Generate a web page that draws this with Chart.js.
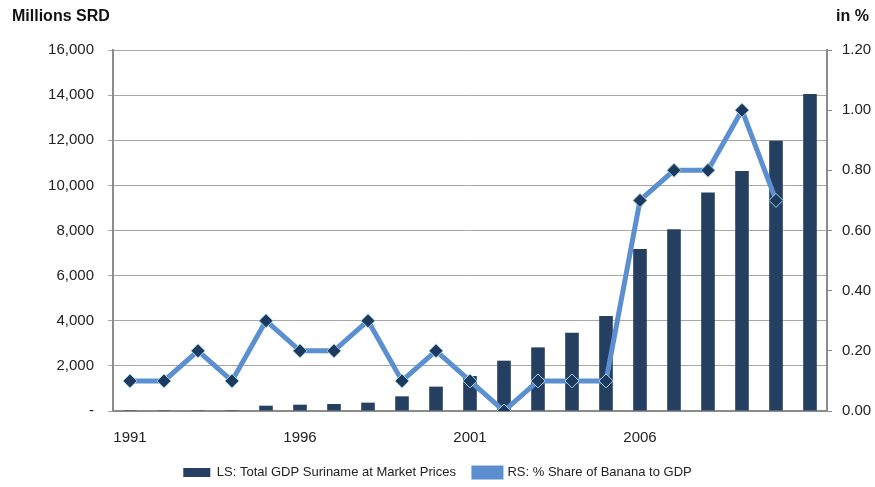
<!DOCTYPE html>
<html>
<head>
<meta charset="utf-8">
<script src="https://cdn.jsdelivr.net/npm/chart.js@4/dist/chart.umd.min.js"></script>
<style>
    html, body { margin: 0; padding: 0; background: #fff; }
    #wrap { position: relative; width: 875px; height: 487px; font-family: "Liberation Sans", Arial, sans-serif; }
    .axis-title { position: absolute; top: 7px; font-weight: bold; font-size: 16px; color: #111; }
</style>
</head>
<body>
<div id="wrap">
    <div class="axis-title" style="left: 12px;">Millions SRD</div>
    <div class="axis-title" style="left: 836px;">in %</div>
    <canvas id="gdpChart" width="875" height="487"></canvas>
</div>
<script>
// 年次
const years = ['1991', '1992', '1993', '1994', '1995', '1996', '1997', '1998', '1999', '2000',
    '2001', '2002', '2003', '2004', '2005', '2006', '2007', '2008', '2009', '2010', '2011'];

// LS: GDP (Millions SRD)
const gdpValues = [3, 4, 8, 40, 235, 280, 310, 370, 650, 1080,
    1550, 2230, 2820, 3470, 4210, 7180, 8050, 9680, 10640, 11980, 14050];

// RS: Banana share of GDP (%)
const bananaShare = [0.1, 0.1, 0.2, 0.1, 0.3, 0.2, 0.2, 0.3, 0.1, 0.2,
    0.1, 0.0, 0.1, 0.1, 0.1, 0.7, 0.8, 0.8, 1.0, 0.7, null];

const shownYears = ['1991', '1996', '2001', '2006'];

const barColor = '#243f60';
const lineColor = '#5b8fcf';
const gridColor = '#a6a6a6';
const axisColor = '#8c8c8c';
const textColor = '#222';
const fontFamily = '"Liberation Sans", Arial, sans-serif';

const ctx = document.getElementById('gdpChart').getContext('2d');

new Chart(ctx, {
    type: 'bar',
    data: {
        labels: years,
        datasets: [
            {
                type: 'bar',
                label: 'LS: Total GDP Suriname at Market Prices',
                data: gdpValues,
                backgroundColor: barColor,
                borderWidth: 0,
                yAxisID: 'y',
                order: 1,
                categoryPercentage: 1,
                barPercentage: 0.4
            },
            {
                type: 'line',
                label: 'RS: % Share of Banana to GDP',
                data: bananaShare,
                borderColor: lineColor,
                backgroundColor: lineColor,
                borderWidth: 5,
                pointStyle: 'rectRot',
                pointRadius: 7,
                pointBackgroundColor: '#1d3a5e',
                pointBorderColor: '#9fd4e2',
                pointBorderWidth: 1,
                tension: 0,
                yAxisID: 'y1',
                order: 0
            }
        ]
    },
    options: {
        responsive: false,
        animation: false,
        layout: { padding: { top: 50, left: 0, right: 0, bottom: 0 } },
        scales: {
            x: {
                offset: true,
                afterFit: s => { s.height = 37; },
                grid: { display: false, drawTicks: false },
                border: { color: axisColor, width: 2 },
                ticks: {
                    autoSkip: false,
                    maxRotation: 0,
                    padding: 18,
                    color: textColor,
                    font: { family: fontFamily, size: 15 },
                    callback: function(val, i) {
                        const lbl = years[i];
                        return shownYears.includes(lbl) ? lbl : '';
                    }
                }
            },
            y: {
                position: 'left',
                min: 0, max: 16000,
                afterFit: s => { s.width = 113; },
                grid: { color: gridColor, tickLength: 5, lineWidth: 1 },
                border: { color: axisColor, width: 2 },
                ticks: {
                    stepSize: 2000,
                    padding: 14,
                    color: textColor,
                    font: { family: fontFamily, size: 15 },
                    callback: v => v === 0 ? '-' : v.toLocaleString('en-US')
                }
            },
            y1: {
                position: 'right',
                min: 0, max: 1.2,
                afterFit: s => { s.width = 48; },
                grid: { drawOnChartArea: false, color: axisColor, tickLength: 5 },
                border: { color: axisColor, width: 2 },
                ticks: {
                    stepSize: 0.2,
                    padding: 10,
                    color: textColor,
                    font: { family: fontFamily, size: 15 },
                    callback: v => v.toFixed(2)
                }
            }
        },
        plugins: {
            tooltip: { enabled: false },
            legend: {
                position: 'bottom',
                maxHeight: 39,
                labels: {
                    boxWidth: 27,
                    boxHeight: 9,
                    padding: 18,
                    color: textColor,
                    font: { family: fontFamily, size: 13 },
                    sort: (a, b) => a.datasetIndex - b.datasetIndex
                }
            }
        }
    }
});
</script>
</body>
</html>
